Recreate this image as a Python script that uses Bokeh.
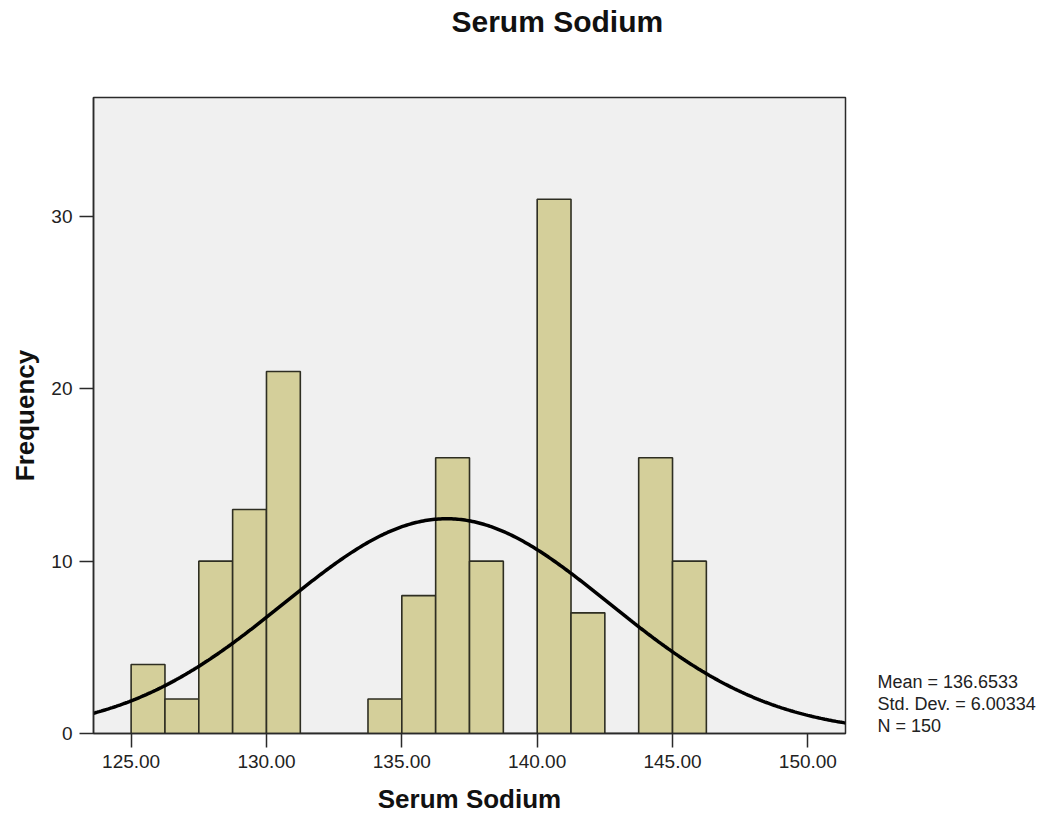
import numpy as np
from bokeh.plotting import figure
from bokeh.layouts import row
from bokeh.models import Range1d, FixedTicker, NumeralTickFormatter, Label, ColumnDataSource, Title
from bokeh.embed import file_html
from bokeh.resources import INLINE

# ---- data ----
bin_start = 125.0
bin_width = 1.25
counts = [4, 2, 10, 13, 21, 0, 0, 2, 8, 16, 10, 0, 31, 7, 0, 16, 10]
x_ticks = [125, 130, 135, 140, 145, 150]
y_ticks = [0, 10, 20, 30]
MEAN = 136.6533
SD = 6.00334
N = 150
title_text = "Serum Sodium"
x_label = "Serum Sodium"
y_label = "Frequency"
stats_lines = ["Mean = 136.6533", "Std. Dev. = 6.00334", "N = 150"]

lefts = [bin_start + i * bin_width for i in range(len(counts))]
rights = [l + bin_width for l in lefts]
src = ColumnDataSource(dict(left=lefts, right=rights, top=counts, bottom=[0] * len(counts)))

FONT = "Liberation Sans"
DARK = "#2a2a2a"

TOP = 97
LEFT = 93
FW, FH = 752, 636
BOTTOM = 84
H = TOP + FH + BOTTOM

p = figure(
    output_backend="svg", toolbar_location=None, title=None,
    frame_width=FW, frame_height=FH,
    min_border_left=LEFT, min_border_top=TOP, min_border_right=12, min_border_bottom=BOTTOM,
    x_range=Range1d(123.61, 151.39), y_range=Range1d(0, 36.9),
    background_fill_color="#f0f0f0", border_fill_color="white",
)
# spacer between frame and title, then the title itself (stacked outward)
p.add_layout(Title(text=" ", text_font_size="10px", text_color="white", standoff=45), "above")
p.add_layout(Title(text=title_text, align="left", offset=358, text_font=FONT,
                   text_font_size="30px", text_font_style="bold", text_color="#111111",
                   standoff=4), "above")

p.outline_line_color = DARK
p.outline_line_width = 1.5
p.xgrid.visible = False
p.ygrid.visible = False

p.quad(left="left", right="right", top="top", bottom="bottom", source=src,
       fill_color="#d4cf9a", line_color="#2e2e22", line_width=1.6)

xs = np.linspace(123.61, 151.39, 400)
ys = N * bin_width / (SD * np.sqrt(2 * np.pi)) * np.exp(-0.5 * ((xs - MEAN) / SD) ** 2)
p.line(xs, ys, line_color="black", line_width=3.5)

for ax in (p.xaxis[0], p.yaxis[0]):
    ax.axis_line_color = DARK
    ax.axis_line_width = 1.5
    ax.major_tick_line_color = DARK
    ax.major_tick_line_width = 1.5
    ax.major_tick_out = 14
    ax.major_tick_in = 0
    ax.minor_tick_line_color = None
    ax.major_label_text_font = FONT
    ax.major_label_text_font_size = "19px"
    ax.major_label_text_color = "#222222"
    ax.axis_label_text_font = FONT
    ax.axis_label_text_font_size = "26px"
    ax.axis_label_text_font_style = "bold"
    ax.axis_label_text_color = "#111111"

p.xaxis.ticker = FixedTicker(ticks=x_ticks)
p.xaxis.formatter = NumeralTickFormatter(format="0.00")
p.xaxis.axis_label = x_label
p.xaxis.major_label_standoff = 7
p.xaxis.axis_label_standoff = 13

p.yaxis.ticker = FixedTicker(ticks=y_ticks)
p.yaxis.axis_label = y_label
p.yaxis.major_label_standoff = 7
p.yaxis.axis_label_standoff = 8

# side panel for statistics text; its frame is aligned with the main frame,
# so its y range is expressed in page pixels (top of frame = TOP)
p2 = figure(
    output_backend="svg", toolbar_location=None, title=None,
    width=200, height=H, min_border=0,
    x_axis_type=None, y_axis_type=None,
    x_range=Range1d(0, 200), y_range=Range1d(TOP + FH, TOP),
    outline_line_color=None, background_fill_color="white", border_fill_color="white",
)
p2.xgrid.visible = False
p2.ygrid.visible = False
for i, t in enumerate(stats_lines):
    p2.add_layout(Label(x=20, y=681 + 22 * i, text=t,
                        text_font=FONT, text_font_size="18px", text_color="#222222",
                        text_baseline="alphabetic", text_align="left"))

layout = row(p, p2)
open("out.html", "w").write(file_html(layout, INLINE))
